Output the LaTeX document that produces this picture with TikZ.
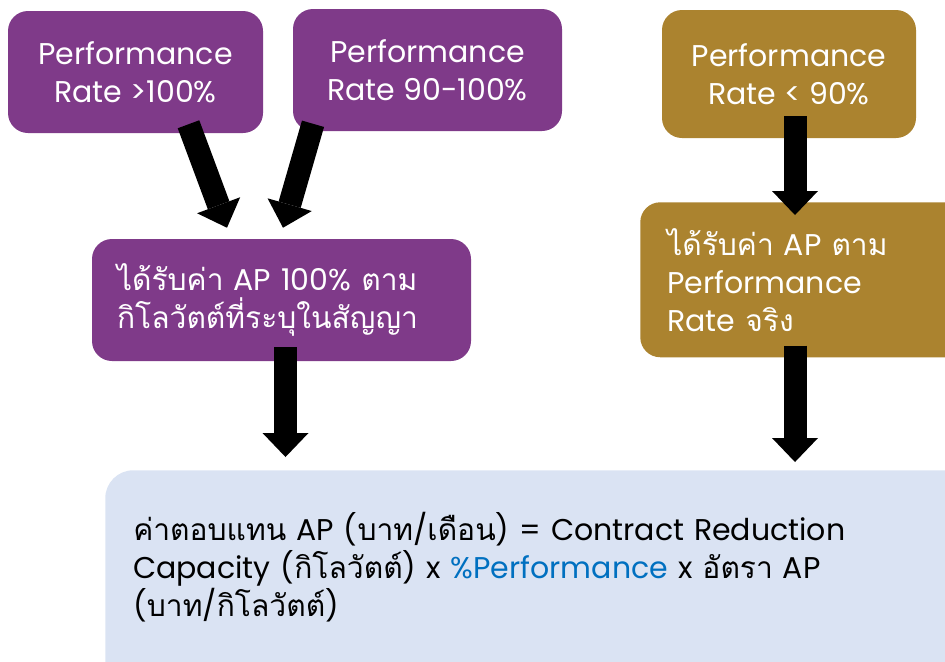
\documentclass[tikz,border=0pt]{standalone}
\usepackage{fontspec}
\setmainfont{Poppins}
\newfontfamily\thaifont[Script=Thai]{Loma}
\newcommand{\tha}[1]{{\thaifont #1}}
\usetikzlibrary{arrows.meta, calc}
\definecolor{apfull}{HTML}{7F3A89}
\definecolor{apreal}{HTML}{AB832F}
\definecolor{apformel}{HTML}{DAE3F3}
\definecolor{apblau}{HTML}{0070C0}
\tikzset{
  box/.style={rounded corners=15pt, inner sep=0pt, font=\fontsize{22.5}{28.5}\selectfont},
  fullbox/.style={box, fill=apfull, text=white},
  realbox/.style={box, fill=apreal, text=white},
  formelbox/.style={box, rounded corners=21pt, fill=apformel, text=black},
  pfeil/.style={-{Triangle[width=34.5pt, length=18pt, line width=0pt]}, line width=17.25pt, black},
}

\begin{document}
\begin{tikzpicture}[x=0.75pt, y=-0.75pt]
    \useasboundingbox (0,0) rectangle (945,661);
    \clip (0,0) rectangle (945,661);
    \node[fullbox, minimum width=191.25pt, minimum height=91.5pt, align=center] (hoch) at (135.5,72) {Performance\\Rate >100\%};
    \node[fullbox, minimum width=201.75pt, minimum height=91.5pt, align=center] (mitte) at (427.5,70) {Performance\\Rate 90-100\%};
    \node[realbox, minimum width=190.5pt, minimum height=96pt, align=center] (tief) at (789,74) {Performance\\Rate < 90\%};

    \node[fullbox, text width=246.75pt, inner xsep=18.75pt, minimum height=91.5pt, align=left] (voll) at (281.5,300)
      {\tha{ได้รับค่า} AP 100\% \tha{ตาม}\\\tha{กิโลวัตต์ที่ระบุในสัญญา}};
    \node[realbox, anchor=north west, text width=222pt, inner xsep=20.25pt, minimum height=116.25pt, align=left] (real) at (640,202)
      {\tha{ได้รับค่า} AP \tha{ตาม}\\Performance\\Rate \tha{จริง}};
    \node[formelbox, anchor=north west, text width=621.75pt, inner xsep=21pt, text height=52.5pt, text depth=150pt, align=left] (formel) at (105,470)
      {\tha{ค่าตอบแทน} AP (\tha{บาท}/\tha{เดือน}) = Contract Reduction\\Capacity (\tha{กิโลวัตต์}) x \textcolor{apblau}{\%Performance} x \tha{อัตรา} AP\\(\tha{บาท}/\tha{กิโลวัตต์})};

    \draw[pfeil] ($(hoch.south)+(53,-9)$) -- ($(voll.north)+(-54.5,-11)$);
    \draw[pfeil] ($(mitte.south)+(-114.5,-7.5)$) -- ($(voll.north)+(1.5,-11)$);
    \draw[pfeil] ($(voll.south)+(4,-14)$) -- ($(voll.south |- formel.north)+(4,-13)$);
    \draw[pfeil] ($(tief.south)+(6,-22)$) -- ($(tief.south |- real.north)+(6,13)$);
    \draw[pfeil] ($(tief.south |- real.south)+(6,-12)$) -- ($(tief.south |- formel.north)+(6,-8)$);
  \end{tikzpicture}
\end{document}
